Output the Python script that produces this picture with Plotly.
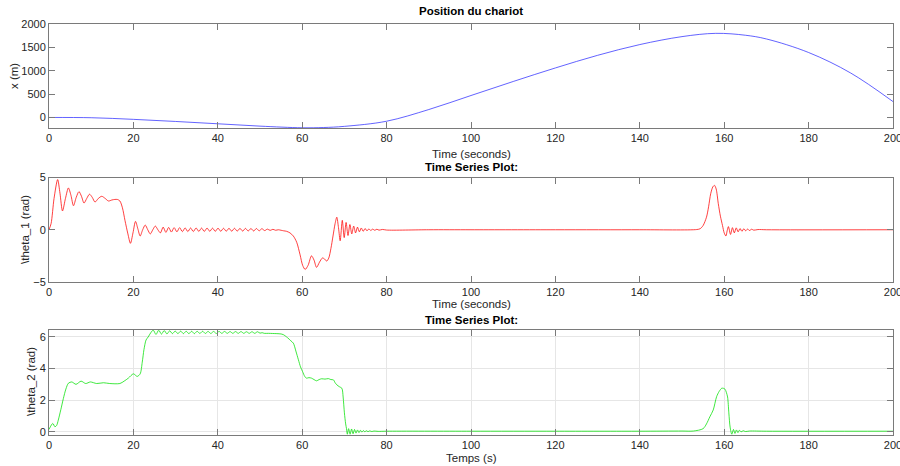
import plotly.graph_objects as go

# ---------------- data ----------------
pos_time = [0, 10, 20, 30, 40, 50, 60, 65, 70, 80, 90, 100, 110, 120, 130, 140, 150, 158,
            165, 170, 180, 190, 200]
pos_vals = [0, -5, -40, -85, -135, -185, -220, -215, -190, -80, 170, 470, 770, 1060, 1330,
            1560, 1730, 1800, 1760, 1680, 1390, 950, 340]

th1_time = [0, 0.5, 1.2, 2.05, 2.6, 3.2, 3.9, 4.6, 5.2, 5.8, 6.45, 7.1, 7.7, 8.3, 8.95, 9.6,
            10.25, 10.9, 11.7, 12.5, 13.3, 14.1, 14.9, 15.6, 16.2, 16.8, 17.4, 18.0, 18.7,
            19.3, 19.9, 20.5, 21.05, 21.6, 22.2, 22.8, 23.4, 24.0, 24.6, 25.2, 25.8, 26.4,
            27.05, 27.7, 28.35, 29.0, 29.65, 30.3, 30.95, 31.6, 32.25, 32.9, 33.55, 34.2,
            34.85, 35.5, 36.15, 36.8, 37.45, 38.1, 38.75, 39.4, 40.05, 40.7, 41.35, 42.0,
            42.65, 43.3, 43.95, 44.6, 45.25, 45.9, 46.55, 47.2, 47.85, 48.5, 49.15, 49.8,
            50.45, 51.1, 51.75, 52.4, 53.05, 53.7, 54.35, 55.0, 55.6, 56.3, 57.1, 57.9,
            58.7, 59.5, 60.1, 60.7, 61.4, 62.2, 62.8, 63.4, 64.1, 64.8, 65.3, 65.8, 66.3,
            66.8, 67.3, 67.8, 68.2, 68.6, 69.0, 69.5, 69.95, 70.4, 70.85, 71.3, 71.75,
            72.2, 72.65, 73.1, 73.55, 74.0, 74.45, 74.9, 75.35, 75.8, 76.25, 76.7, 77.2,
            77.7, 78.2, 79, 80, 90, 100, 120, 140, 153.5, 154.3, 155.0, 155.8, 156.3,
            156.8, 157.3, 157.7, 158.1, 158.6, 159.1, 159.6, 160.0, 160.4, 160.7, 161.0,
            161.5, 161.95, 162.4, 162.85, 163.3, 163.75, 164.2, 164.65, 165.1, 165.55,
            166.0, 166.5, 167, 168, 170, 200]
th1_vals = [0, 0.6, 3.0, 4.8, 3.5, 1.8, 3.0, 4.0, 3.3, 2.3, 3.1, 3.65, 3.2, 2.55, 3.0, 3.4,
            3.1, 2.65, 3.0, 3.2, 3.0, 2.75, 2.85, 2.9, 2.9, 2.75, 2.1, 0.9, -0.4,
            -1.3, -0.3, 0.8, 0.1, -0.6, 0.0, 0.45, 0.0, -0.4, 0.0, 0.35, 0.0, -0.3,
            0.25, -0.25, 0.22, -0.22, 0.2, -0.2, 0.2, -0.18, 0.18, -0.18, 0.17, -0.17,
            0.17, -0.16, 0.16, -0.16, 0.16, -0.15, 0.15, -0.15, 0.15, -0.15, 0.14, -0.14,
            0.14, -0.14, 0.14, -0.13, 0.13, -0.13, 0.13, -0.12, 0.12, -0.12, 0.12, -0.1,
            0.1, -0.08, 0.06, -0.06, 0.04, -0.05, 0.0, -0.05, -0.1, -0.15, -0.3, -0.6,
            -1.2, -2.4, -3.4, -3.8, -3.4, -2.5, -2.9, -3.6, -3.1, -2.7, -2.8, -3.0, -2.7,
            -1.8, -0.6, 0.6, 1.2, 0.2, -1.05, 0.9, -0.75, 0.7, -0.55, 0.5, -0.4,
            0.35, -0.3, 0.25, -0.2, 0.17, -0.15, 0.12, -0.1, 0.08, -0.07, 0.06, -0.05,
            0.05, -0.04, 0.03, -0.03, 0.0, 0.0, 0.0, 0.0, 0.02, 0.1, 0.4, 1.2, 2.2,
            3.45, 4.1, 4.25, 3.9, 2.5, 1.3, 0.4, -0.3, -0.6, -0.1, 0.3,
            -0.45, 0.2, -0.3, 0.18, -0.2, 0.12, -0.15, 0.1, -0.1, 0.07,
            -0.07, 0.05, -0.04, 0.02, 0.0, 0.0]

th2_time = [0, 0.9, 1.4, 1.8, 2.2, 2.8, 3.4, 4.0, 4.6, 5.4, 6.4, 7.6, 8.7, 9.8, 11.3, 12.9,
            14.4, 16.8, 17.8, 18.8, 20.0, 20.9, 21.6, 22.1, 22.5, 23.0, 23.5, 24.1, 24.7,
            25.35, 26.0, 26.65, 27.3, 27.95, 28.6, 29.25, 29.9, 30.55, 31.2, 31.85, 32.5,
            33.15, 33.8, 34.45, 35.1, 35.75, 36.4, 37.05, 37.7, 38.35, 39.0, 39.65, 40.3,
            40.95, 41.6, 42.25, 42.9, 43.55, 44.2, 44.85, 45.5, 46.15, 46.8, 47.45, 48.1,
            48.75, 49.4, 50.0, 50.5, 51, 52, 53, 54, 55, 55.5, 56.5, 57.3, 57.9, 58.5,
            59.1, 59.6, 60.1, 60.6, 61.0, 61.6, 62.2, 62.8, 63.4, 64.0, 64.6, 65.4, 66.2,
            66.8, 67.4, 67.8, 68.2, 68.8, 69.4, 69.7, 70.0, 70.3, 70.5, 70.7, 71.0, 71.35,
            71.7, 72.05, 72.4, 72.75, 73.1, 73.45, 73.8, 74.15, 74.5, 74.85, 75.2, 75.6,
            76.0, 76.5, 77, 78, 80, 100, 120, 140, 150, 152.7, 155.0, 155.8, 156.6, 157.4,
            158.2, 158.8, 159.4, 159.8, 160.2, 160.5, 160.8, 161.1, 161.4, 161.8, 162.2,
            162.55, 162.9, 163.25, 163.6, 164, 164.5, 165, 166, 170, 200]
th2_vals = [0.15, 0.53, 0.32, 0.4, 0.74, 1.4, 2.1, 2.7, 3.07, 3.15, 3.0, 3.2, 3.05, 3.15, 3.05,
            3.1, 3.05, 3.05, 3.2, 3.39, 3.66, 3.5, 3.66, 4.4, 5.19, 5.8, 5.99, 6.25, 6.42,
            6.15, 6.42, 6.17, 6.4, 6.18, 6.38, 6.2, 6.36, 6.2, 6.36, 6.2, 6.35,
            6.2, 6.35, 6.2, 6.35, 6.21, 6.35, 6.21, 6.34, 6.21, 6.34, 6.21, 6.34,
            6.22, 6.34, 6.22, 6.33, 6.22, 6.33, 6.22, 6.33, 6.22, 6.32, 6.22, 6.32,
            6.22, 6.32, 6.23, 6.26, 6.22, 6.22, 6.21, 6.2, 6.18, 6.14, 5.95, 5.75, 5.6, 5.1,
            4.55, 4.1, 3.8, 3.5, 3.39, 3.42, 3.39, 3.3, 3.22, 3.3, 3.35, 3.33, 3.36,
            3.3, 3.28, 3.1, 2.97, 2.85, 2.75, 2.2, 1.2, 0.5, 0.2, -0.15, 0.2, -0.15,
            0.18, -0.12, 0.15, -0.08, 0.12, -0.05, 0.1, -0.02, 0.08, 0.0, 0.07, 0.01,
            0.06, 0.02, 0.05, 0.03, 0.04, 0.04, 0.04, 0.04, 0.05, 0.05, 0.2, 0.5, 0.95, 1.38,
            2.22, 2.55, 2.75, 2.75, 2.69, 2.5, 2.2, 1.2, 0.3, -0.15, 0.15,
            -0.1, 0.12, -0.05, 0.1, 0.0, 0.07, 0.02, 0.05, 0.04, 0.04]

x_ticks = [0, 20, 40, 60, 80, 100, 120, 140, 160, 180, 200]
pos_ticks = [0, 500, 1000, 1500, 2000]
th1_ticks = [-5, 0, 5]
th2_ticks = [0, 2, 4, 6]

# ---------------- figure ----------------
W, H = 900, 466
FONT = "Liberation Sans, Arial, Helvetica, sans-serif"
TXT = "#262626"
AX = "#7a7a7a"

fig = go.Figure()
fig.add_trace(go.Scatter(x=pos_time, y=pos_vals, mode="lines", line=dict(color="#2020ff", width=0.7, shape="spline"),
                         xaxis="x", yaxis="y", showlegend=False))
fig.add_trace(go.Scatter(x=th1_time, y=th1_vals, mode="lines", line=dict(color="#ff0000", width=0.75, shape="spline", smoothing=0.8),
                         xaxis="x2", yaxis="y2", showlegend=False))
fig.add_trace(go.Scatter(x=th2_time, y=th2_vals, mode="lines", line=dict(color="#00e000", width=0.75, shape="spline", smoothing=0.8),
                         xaxis="x3", yaxis="y3", showlegend=False))

def px_x(p):
    return p / W

def px_y(p):
    return 1 - p / H

xdom = [px_x(49), px_x(893)]
doms = [(24, 128), (177.5, 282), (330, 435)]

def xax(anchor, grid=False):
    return dict(domain=xdom, anchor=anchor, range=[0, 200], tickvals=x_ticks,
                ticks="inside", ticklen=6, tickcolor=AX, showline=True, linecolor=AX,
                linewidth=1, mirror="ticks", showgrid=grid, gridcolor="#e6e6e6", zeroline=False,
                ticklabeloverflow="allow", automargin=False,
                tickfont=dict(family=FONT, size=11, color=TXT))

def yax(anchor, dom, rng, tv, grid=False):
    return dict(domain=[px_y(dom[1]), px_y(dom[0])], anchor=anchor, range=rng, tickvals=tv,
                ticks="inside", ticklen=6, tickcolor=AX, showline=True, linecolor=AX,
                linewidth=1, mirror="ticks", showgrid=grid, gridcolor="#e6e6e6", zeroline=False,
                automargin=False,
                tickfont=dict(family=FONT, size=11, color=TXT))

fig.update_layout(
    width=W, height=H, margin=dict(l=0, r=0, t=0, b=0, autoexpand=False),
    paper_bgcolor="white", plot_bgcolor="white",
    xaxis=xax("y"), yaxis=yax("x", doms[0], [-225, 2000], pos_ticks),
    xaxis2=xax("y2"), yaxis2=yax("x2", doms[1], [-5, 5], th1_ticks),
    xaxis3=xax("y3", grid=True), yaxis3=yax("x3", doms[2], [-0.2, 6.43], th2_ticks, grid=True),
)

cx = (49 + 893) / 2 / W
ann = [
    ("<b>Position du chariot</b>", cx, 11, 0),
    ("Time (seconds)", cx, 154, 0),
    ("<b>Time Series Plot:</b>", cx, 167, 0),
    ("Time (seconds)", cx, 304, 0),
    ("<b>Time Series Plot:</b>", cx, 320, 0),
    ("Temps (s)", cx, 458, 0),
    ("x (m)", 14 / W, 76, -90),
    ("\\theta_1 (rad)", 25 / W, 230, -90),
    ("\\theta_2 (rad)", 31 / W, 382, -90),
]
for text, x, ypx, ang in ann:
    fig.add_annotation(text=text, x=x, y=px_y(ypx), xref="paper", yref="paper",
                       xanchor="center", yanchor="middle", showarrow=False, textangle=ang,
                       font=dict(family=FONT, size=11.5, color=TXT if "<b>" not in text else "#000000"))

fig.write_html("out.html")
